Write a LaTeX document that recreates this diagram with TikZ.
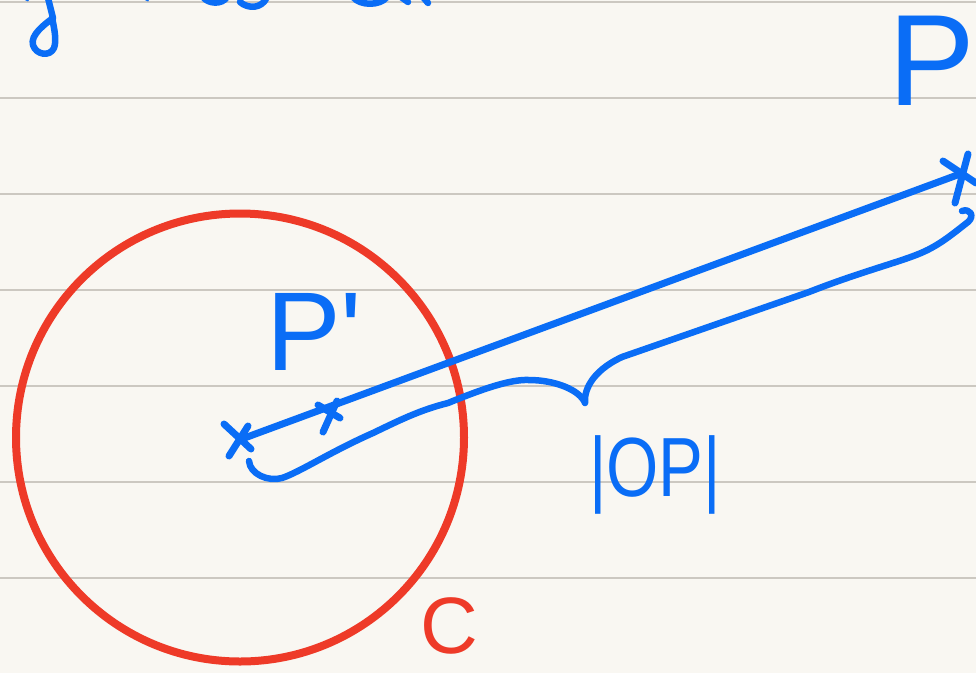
\documentclass[tikz,border=0pt]{standalone}
\usepackage{fontspec}
\setmainfont{Liberation Sans}
\usetikzlibrary{calc}
\definecolor{paper}{HTML}{F9F7F2}
\definecolor{ruleline}{HTML}{CCC8C1}
\definecolor{ink}{HTML}{0A6DF6}
\definecolor{redink}{HTML}{EE3A28}
\begin{document}
\begin{tikzpicture}[x=1pt,y=-1pt,line cap=round,line join=round,
  pen/.style={draw=ink,line width=7pt},
  thinpen/.style={draw=ink,line width=6.5pt},
  rulestyle/.style={draw=ruleline,line width=1.5pt},
  bluelabel/.style={text=ink,inner sep=0pt,outer sep=0pt},
  redlabel/.style={text=redink,inner sep=0pt,outer sep=0pt}]
\useasboundingbox (0,0) rectangle (976,673);
\clip (0,0) rectangle (976,673);
\fill[paper] (0,0) rectangle (976,673);
\foreach \yy in {2,98,194,290,386,482,578}
  \draw[rulestyle] (0,\yy) -- (976,\yy);

% fragments of the line of writing above (cut off at the top)
\draw[thinpen] (48,-2) -- (53,18) .. controls (45,24) and (30,35) .. (33,45)
  .. controls (36,55) and (50,57) .. (54,48) .. controls (57,40) and (54,28) .. (52,17);
\draw[thinpen] (203,-3) .. controls (208,4) and (222,5) .. (227,-3);
\draw[thinpen] (240,2) .. controls (248,9) and (262,9) .. (267,-3);
\draw[thinpen] (353,-3) .. controls (360,6) and (380,6) .. (387,-3);
\draw[thinpen] (401,-3) -- (408,2);
\draw[thinpen] (423,-3) -- (428,3);
\draw[ink,line width=2pt] (25,-1) -- (28,0.5);
\draw[ink,line width=2pt] (145,-1) -- (148,0.5);

% circle C
\draw[draw=redink,line width=8pt] (240,437.5) circle[radius=224pt];

% points
\coordinate (O) at (239,440);
\coordinate (Pp) at (330,412);
\coordinate (P) at (960,174);

% segment O -> P
\draw[pen] (O) -- (P);

% x marks
\draw[pen] ($(O)+(-15,-16)$) -- ($(O)+(12,9)$);
\draw[pen] ($(O)+(9,-14)$) -- ($(O)+(-10,16)$);
\draw[pen] ($(Pp)+(-12,-7)$) -- ($(Pp)+(10,6)$);
\draw[pen] ($(Pp)+(7,-11)$) -- ($(Pp)+(-7,20)$);
\draw[pen] ($(P)+(-17,-13)$) -- ($(P)+(16,9)$);
\draw[pen] ($(P)+(8,-20)$) -- ($(P)+(-5,29)$);

% brace under OP
\draw[thinpen] (249,461) .. controls (250,474) and (268,482) .. (282,478)
  .. controls (300,472) and (330,452) .. (373,433)
  .. controls (400,420) and (420,410) .. (448,403)
  .. controls (480,390) and (510,379) .. (529,380)
  .. controls (555,380) and (580,390) .. (585,403)
  .. controls (584,392) and (590,372) .. (622,357)
  -- (809,292)
  .. controls (860,272) and (900,262) .. (921,253)
  .. controls (940,245) and (955,232) .. (968,222)
  .. controls (975,216) and (970,208) .. (962,211);

% labels
\node[bluelabel,anchor=base west,font=\fontsize{130}{130}\selectfont] (Plabel) at (888,105) {P};
\node[bluelabel,anchor=base west,font=\fontsize{112}{112}\selectfont] (Pplabel) at (266,370) {P\textquotesingle};
\node[bluelabel,anchor=base,font=\fontsize{84}{84}\selectfont] (OPlabel) at (655,496) {\scalebox{0.8}[1]{|OP|}};
\node[redlabel,anchor=base west,font=\fontsize{80}{80}\selectfont] (Clabel) at (420,653) {C};
\end{tikzpicture}
\end{document}
